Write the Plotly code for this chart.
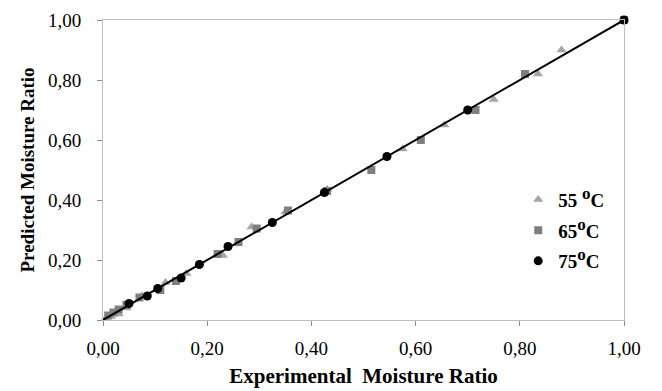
import plotly.graph_objects as go

# Experimental vs predicted moisture ratio at three drying temperatures
exp_55 = [1.00, 0.88, 0.835, 0.75, 0.655, 0.575, 0.43, 0.35, 0.285, 0.23, 0.16, 0.12, 0.075, 0.045, 0.03, 0.015, 0.005]
pred_55 = [1.00, 0.90, 0.82, 0.735, 0.65, 0.57, 0.435, 0.36, 0.31, 0.215, 0.155, 0.125, 0.08, 0.04, 0.02, 0.012, 0.005]

exp_65 = [1.00, 0.81, 0.715, 0.61, 0.515, 0.43, 0.355, 0.295, 0.26, 0.22, 0.14, 0.11, 0.07, 0.045, 0.03, 0.02, 0.01]
pred_65 = [1.00, 0.82, 0.70, 0.60, 0.50, 0.43, 0.365, 0.305, 0.26, 0.22, 0.13, 0.10, 0.075, 0.05, 0.035, 0.025, 0.015]

exp_75 = [1.00, 0.70, 0.545, 0.425, 0.325, 0.24, 0.185, 0.15, 0.105, 0.085, 0.05]
pred_75 = [1.00, 0.70, 0.545, 0.425, 0.325, 0.245, 0.185, 0.14, 0.105, 0.08, 0.055]

fit_x = [0.0, 1.0]
fit_y = [0.0, 1.0]

tick_vals = [0.0, 0.2, 0.4, 0.6, 0.8, 1.0]

series_names = [
    "55 <sup><span style='font-size:17px'>o</span></sup>C",
    "65<sup><span style='font-size:17px'>o</span></sup>C",
    "75<sup><span style='font-size:17px'>o</span></sup>C",
]

serif = "Liberation Serif"

fig = go.Figure()

fig.add_trace(go.Scatter(
    x=exp_55, y=pred_55, mode="markers", name=series_names[0], legendgroup="a",
    marker=dict(symbol="triangle-up", size=9, color="#a6a6a6"),
    cliponaxis=False,
))
fig.add_trace(go.Scatter(
    x=exp_65, y=pred_65, mode="markers", name=series_names[1], legendgroup="b",
    marker=dict(symbol="square", size=8, color="#7f7f7f"),
    cliponaxis=False,
))
fig.add_trace(go.Scatter(
    x=fit_x, y=fit_y, mode="lines", showlegend=False,
    line=dict(color="#000000", width=2),
))
fig.add_trace(go.Scatter(
    x=exp_75, y=pred_75, mode="markers", name=series_names[2], legendgroup="c",
    marker=dict(symbol="circle", size=9, color="#000000"),
    cliponaxis=False,
))

axis_common = dict(
    range=[0, 1],
    tickvals=tick_vals,
    tickformat=".2f",
    showgrid=False,
    zeroline=False,
    showline=True,
    linecolor="#bfbfbf",
    linewidth=1,
    mirror=True,
    ticks="outside",
    ticklen=5,
    tickcolor="#8c8c8c",
    automargin=False,
    tickfont=dict(family=serif, size=19, color="#000000"),
)

fig.update_xaxes(
    **axis_common,
    ticklabelstandoff=6,
    title=dict(text="<b>Experimental  Moisture Ratio</b>",
               font=dict(family=serif, size=21, color="#000000"), standoff=10),
)
fig.update_yaxes(
    **axis_common,
    ticklabelstandoff=12,
    title=dict(text="<b>Predicted Moisture Ratio</b>",
               font=dict(family=serif, size=19, color="#000000"), standoff=8),
)

fig.update_layout(
    width=662, height=391,
    margin=dict(l=103, r=38, t=20, b=71),
    paper_bgcolor="white",
    plot_bgcolor="white",
    separators=", ",
    legend=dict(
        x=0.797, y=0.298, xanchor="left", yanchor="middle",
        font=dict(family=serif, size=19, color="#000000", weight="bold"),
        bgcolor="rgba(0,0,0,0)",
        tracegroupgap=3,
        traceorder="grouped",
    ),
    showlegend=True,
)

fig.write_html("out.html")
